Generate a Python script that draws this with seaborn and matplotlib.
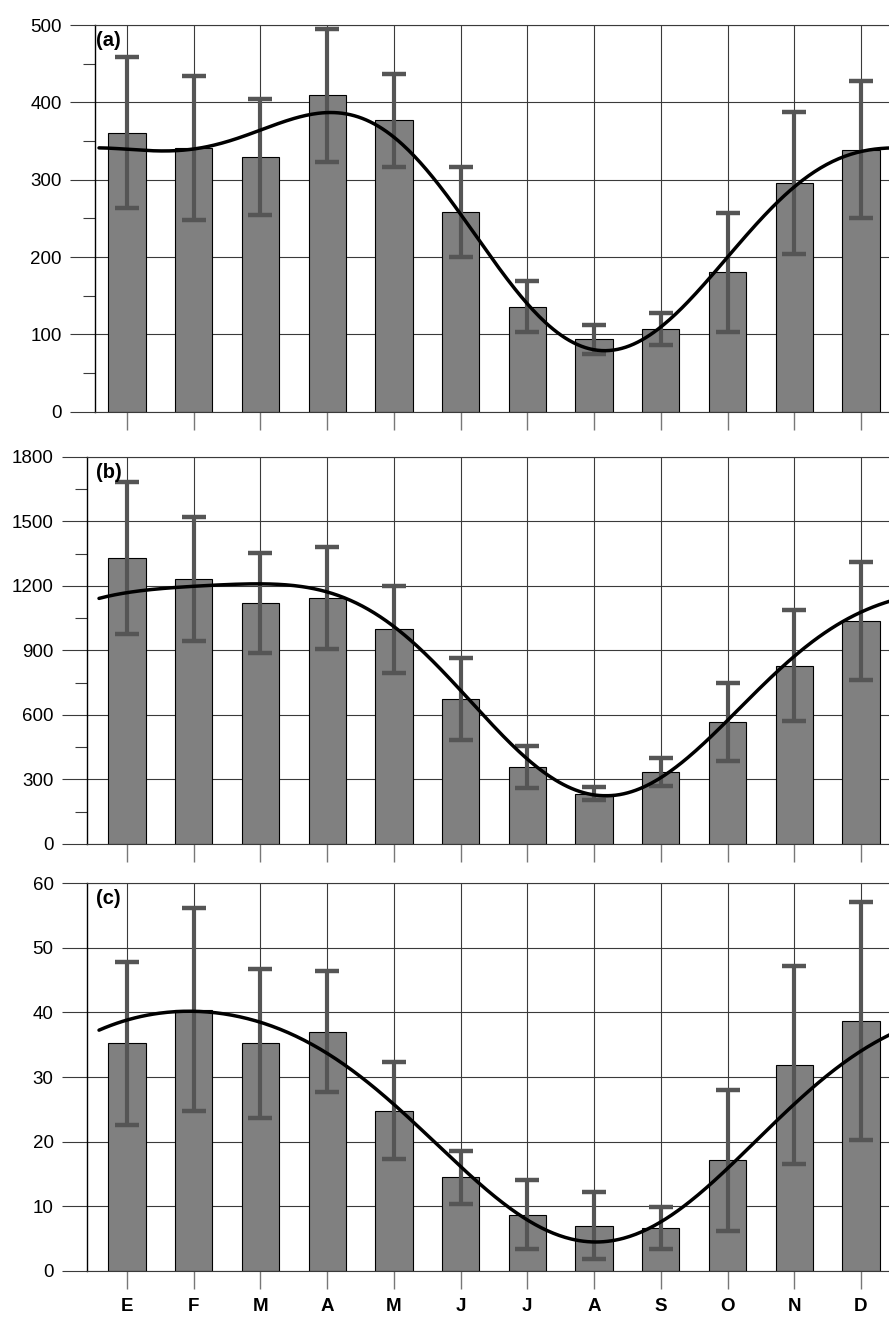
import numpy as np
import pandas as pd
import matplotlib
matplotlib.use("Agg")
import matplotlib.pyplot as plt
from matplotlib.ticker import MultipleLocator
import seaborn as sns

# Month initials (Spanish): Enero ... Diciembre
months = ["E", "F", "M", "A", "M", "J", "J", "A", "S", "O", "N", "D"]

# Panel (a): monthly means, standard deviations and the seasonal fit at month centres
a_mean = [361, 341, 329, 409, 377, 258, 136, 93.5, 107, 180, 296, 339]
a_err = [98, 93, 75, 86, 60, 58, 33, 19, 21, 77, 92, 88]
a_fit = [338, 343.5, 362, 384.5, 360, 252, 138, 85, 105.6, 199.6, 294, 334]

# Panel (b)
b_mean = [1330, 1231, 1119, 1143, 998, 674, 357, 234, 335, 567, 829, 1037]
b_err = [353, 287, 232, 237, 202, 192, 98, 30, 67, 180, 258, 273]
b_fit = [1164, 1206, 1208, 1161, 1025, 707, 389, 239, 304, 567, 885, 1071]

# Panel (c)
c_mean = [35.2, 40.4, 35.2, 37.0, 24.8, 14.5, 8.7, 7.0, 6.6, 17.1, 31.9, 38.7]
c_err = [12.6, 15.7, 11.5, 9.4, 7.55, 4.1, 5.4, 5.2, 3.2, 10.9, 15.3, 18.4]
c_fit = [38.6, 40.4, 38.3, 33.9, 25.7, 15.8, 8.1, 4.75, 7.1, 15.8, 26.2, 33.9]

sns.set_theme(style="white")
plt.rcParams["font.family"] = ["Liberation Sans", "DejaVu Sans"]
plt.rcParams["text.color"] = "black"

W, H = 889, 1320
fig = plt.figure(figsize=(W / 100, H / 100), dpi=100)

GRID = "#3a3a3a"
BAR = "#808080"
ERR = "#555555"


def harmonic_design(t, n_harm):
    w = 2 * np.pi / 12.0
    cols = [np.ones_like(t)]
    for k in range(1, n_harm + 1):
        cols += [np.cos(k * w * t), np.sin(k * w * t)]
    return np.column_stack(cols)


def panel(rect, mean, err, fit, n_harm, ymax, major, minor, xleft, tag, show_labels):
    ax = fig.add_axes(rect)
    idx = np.arange(len(months))
    df = pd.DataFrame({"m": idx, "v": mean})
    sns.barplot(data=df, x="m", y="v", native_scale=True, width=0.56,
                color=BAR, saturation=1, edgecolor="black", linewidth=0.8,
                errorbar=None, ax=ax, zorder=2)
    ax.errorbar(idx, mean, yerr=err, fmt="none", ecolor=ERR, elinewidth=3,
                capsize=8.5, capthick=3.2, zorder=3)

    # smooth seasonal (harmonic) curve through the fitted values
    t = idx.astype(float)
    X = harmonic_design(t, n_harm)
    coef, *_ = np.linalg.lstsq(X, np.asarray(fit, float), rcond=None)
    tt = np.linspace(-0.42, 11.6, 400)
    sns.lineplot(x=tt, y=harmonic_design(tt, n_harm) @ coef, color="black", lw=2.5,
                 ax=ax, zorder=4, sort=False)

    ax.set_xlim(xleft, 11.42)
    ax.set_ylim(0, ymax)
    ax.yaxis.set_major_locator(MultipleLocator(major))
    if minor:
        ax.yaxis.set_minor_locator(MultipleLocator(minor))
    ax.set_xticks(idx)
    if show_labels:
        ax.set_xticklabels(months, fontweight="bold", fontsize=13.5)
    else:
        ax.set_xticklabels([])
    ax.set_xlabel("")
    ax.set_ylabel("")

    ax.set_axisbelow(True)
    ax.grid(True, which="major", axis="both", color=GRID, lw=0.8)
    ax.tick_params(axis="y", which="major", direction="out", length=18, width=0.8,
                   color=GRID, labelsize=13.5, pad=6, left=True, labelcolor="black")
    ax.tick_params(axis="y", which="minor", direction="out", length=9, width=0.8,
                   color=GRID, left=True)
    ax.tick_params(axis="x", which="major", direction="out", length=13, width=1,
                   color="#777777", pad=7, bottom=True, labelcolor="black")

    for s in ("top", "bottom"):
        ax.spines[s].set_color(GRID)
        ax.spines[s].set_linewidth(0.8)
    ax.spines["right"].set_visible(False)
    ax.spines["left"].set_color("black")
    ax.spines["left"].set_linewidth(1.0)

    ax.text(-0.47, ymax * 0.985, tag, fontsize=14.5, fontweight="bold",
            color="black", ha="left", va="top", zorder=5)
    return ax


def rect_px(left, top, bottom):
    return [left / W, 1 - bottom / H, 1 - left / W, (bottom - top) / H]


panel(rect_px(95, 25, 411.7), a_mean, a_err, a_fit, 3, 500, 100, 50, -0.48, "(a)", False)
panel(rect_px(87, 456.7, 844), b_mean, b_err, b_fit, 3, 1800, 300, 150, -0.6, "(b)", False)
panel(rect_px(87, 883.3, 1270.7), c_mean, c_err, c_fit, 2, 60, 10, None, -0.6, "(c)", True)

fig.savefig("out.png", dpi=100)
